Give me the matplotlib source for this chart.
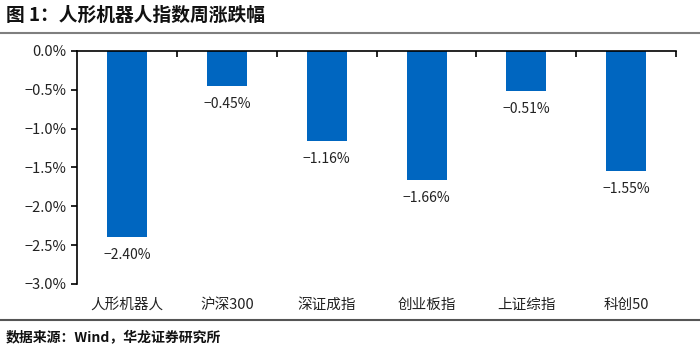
import matplotlib
matplotlib.use("Agg")
import matplotlib.pyplot as plt
from matplotlib.lines import Line2D
from matplotlib.ticker import FuncFormatter, FixedLocator

plt.rcParams['font.family'] = ['Noto Sans CJK SC', 'DejaVu Sans']
plt.rcParams['axes.unicode_minus'] = True

categories = ["人形机器人", "沪深300", "深证成指", "创业板指", "上证综指", "科创50"]
values = [-2.40, -0.45, -1.16, -1.66, -0.51, -1.55]
yticks = [0.0, -0.5, -1.0, -1.5, -2.0, -2.5, -3.0]

title = "图 1：人形机器人指数周涨跌幅"
source = "数据来源：Wind，华龙证券研究所"

fig = plt.figure(figsize=(7.0, 3.54), dpi=100)
ax = fig.add_axes([0.11, 0.198, 0.856, 0.658])

x = list(range(len(categories)))
ax.bar(x, values, width=0.4, color="#0066C0", zorder=2)

for xi, v in zip(x, values):
    ax.annotate(f"{v:.2f}%".replace("-", "\u2212"), (xi, v), xytext=(0, -8),
                textcoords="offset points", ha="center", va="top", fontsize=10, color="#222222")

ax.set_xlim(-0.5, len(categories) - 0.5)
ax.set_ylim(-3.0, 0.0)
ax.set_yticks(yticks)
ax.yaxis.set_major_formatter(FuncFormatter(lambda v, p: f"{v:.1f}%".replace("-", "\u2212")))
ax.set_xticks(x)
ax.set_xticklabels(categories, fontsize=10.5, color="#222222")
ax.xaxis.set_minor_locator(FixedLocator([i + 0.5 for i in x]))

for s in ["right", "bottom"]:
    ax.spines[s].set_visible(False)
ax.spines["top"].set_linewidth(1.2)
ax.spines["left"].set_linewidth(1.2)
ax.tick_params(axis="x", which="major", length=0, pad=10)
ax.tick_params(axis="x", which="minor", top=True, bottom=False, direction="in", length=4, width=1.2)
ax.tick_params(axis="y", direction="out", length=4, width=1.2, labelsize=10.5, labelcolor="#222222")

fig.text(0.008, 0.956, title, fontsize=13.5, fontweight="bold", ha="left", va="center", color="#111111")
fig.text(0.008, 0.045, source, fontsize=10, fontweight="bold", ha="left", va="center", color="#111111")
fig.add_artist(Line2D([0, 1], [1 - 33/354, 1 - 33/354], color="#7f7f7f", lw=1.5, transform=fig.transFigure))
fig.add_artist(Line2D([0, 1], [1 - 320/354, 1 - 320/354], color="#555555", lw=1.5, transform=fig.transFigure))

fig.savefig("out.png", dpi=100)
